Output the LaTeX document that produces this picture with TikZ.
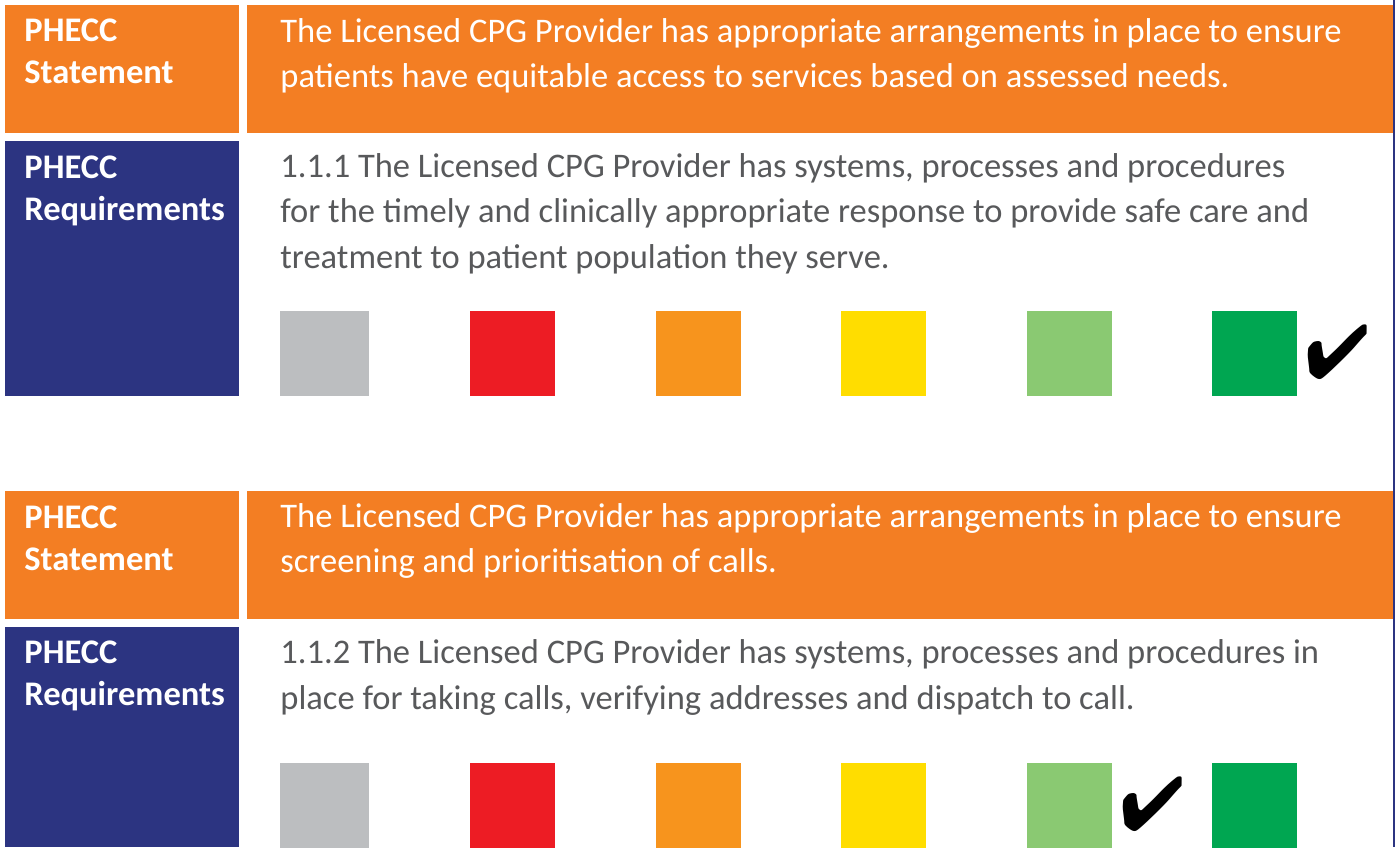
\documentclass[tikz,border=0pt]{standalone}
\usepackage{fontspec}
\setmainfont{Carlito}
\usepackage{pifont}
\usetikzlibrary{positioning}

\definecolor{phorange}{HTML}{F37E23}
\definecolor{phnavy}{HTML}{2C3481}
\definecolor{reqgrey}{HTML}{58595B}
\definecolor{sqgrey}{HTML}{BCBEC0}
\definecolor{sqred}{HTML}{ED1C24}
\definecolor{sqorange}{HTML}{F7941D}
\definecolor{sqyellow}{HTML}{FFDD00}
\definecolor{sqlgreen}{HTML}{8AC972}
\definecolor{sqgreen}{HTML}{00A651}

\begin{document}
\begin{tikzpicture}[%
    x=0.5pt, y=-0.5pt,    % one unit = one pixel, y downwards
    labeltext/.style={anchor=base west, align=left, inner sep=0pt, text=white,
                      font=\fontsize{17.25}{20.8}\selectfont\bfseries},
    stmttext/.style={anchor=base west, align=left, inner sep=0pt, text=white,
                     font=\fontsize{17.25}{22.5}\selectfont},
    reqtext/.style={anchor=base west, align=left, inner sep=0pt, text=reqgrey,
                    font=\fontsize{17.25}{22.6}\selectfont},
    square/.style={anchor=north west, inner sep=0pt, minimum height=42.5pt,
                   minimum width=42.5pt},
    tickmark/.style={anchor=base west, inner sep=0pt, font=\fontsize{38}{38}\selectfont},
    ]

\useasboundingbox (0,0) rectangle (1395,847);

%==================================================
% Block 1
%==================================================
\fill[phorange] (5,5) rectangle (239,133);
\fill[phorange] (247,5) rectangle (1393,133);
\fill[phnavy]   (5,141) rectangle (239,396);

% anchors sit on the baseline of the last line
\node[labeltext] (lab1) at (24,83)  {PHECC\\Statement};
\node[labeltext] (req1) at (24,220) {PHECC\\Requirements};

\node[stmttext] (st1) at (280,87) {The Licensed CPG Provider has appropriate arrangements in place to ensure\\patients have equitable access to services based on assessed needs.};
\node[reqtext] (rt1) at (280,268) {1.1.1 The Licensed CPG Provider has systems, processes and procedures\\for the timely and clinically appropriate response to provide safe care and\\treatment to patient population they serve.};

\node[square, fill=sqgrey, minimum width=44.5pt] (gy1) at (280,311) {};
\node[square, fill=sqred]    (rd1) at (470,311)    {};
\node[square, fill=sqorange] (or1) at (655.5,311)  {};
\node[square, fill=sqyellow] (ye1) at (841,311)    {};
\node[square, fill=sqlgreen] (lg1) at (1026.5,311) {};
\node[square, fill=sqgreen]  (gn1) at (1212,311)   {};

\node[tickmark] (tk1) at (1305,378) {\ding{52}};

%==================================================
% Block 2
%==================================================
\fill[phorange] (5,491) rectangle (239,619);
\fill[phorange] (247,491) rectangle (1393,619);
\fill[phnavy]   (5,627) rectangle (239,847);

\node[labeltext] (lab2) at (24,570) {PHECC\\Statement};
\node[labeltext] (req2) at (24,705) {PHECC\\Requirements};

\node[stmttext] (st2) at (280,572) {The Licensed CPG Provider has appropriate arrangements in place to ensure\\screening and prioritisation of calls.};
\node[reqtext] (rt2) at (280,709) {1.1.2 The Licensed CPG Provider has systems, processes and procedures in\\place for taking calls, verifying addresses and dispatch to call.};

\node[square, fill=sqgrey, minimum width=44.5pt] (gy2) at (280,763) {};
\node[square, fill=sqred]    (rd2) at (470,763)    {};
\node[square, fill=sqorange] (or2) at (655.5,763)  {};
\node[square, fill=sqyellow] (ye2) at (841,763)    {};
\node[square, fill=sqlgreen] (lg2) at (1026.5,763) {};
\node[square, fill=sqgreen]  (gn2) at (1212,763)   {};

\node[tickmark] (tk2) at (1120,830) {\ding{52}};

% right rule
\draw[phnavy, line width=1pt] (1393.5,0) -- (1393.5,847);

%==================================================
\end{tikzpicture}
\end{document}
